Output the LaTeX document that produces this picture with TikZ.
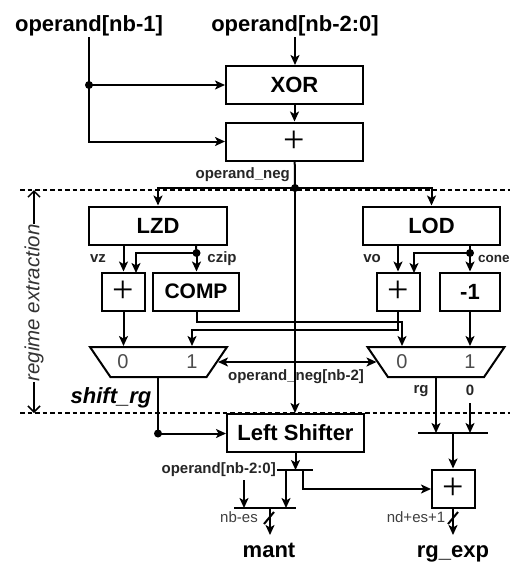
\documentclass[tikz,border=0pt]{standalone}
\usepackage{fontspec}
\setmainfont{Liberation Sans}
\newfontfamily\plusfont{Liberation Serif}
\usepackage{tikz}
\usetikzlibrary{arrows.meta}
\usetikzlibrary{calc}
\usetikzlibrary{shapes.geometric}
\newcommand{\fsize}[1]{\fontsize{#1}{#1}\selectfont}
\newcommand{\bnode}[4]{\node(#1)[block,minimum width=#3]at(#2){#4}}
\newcommand{\pnode}[3]{\node(#1)[block,minimum width=#3,font=\fsize{38}\plusfont]at(#2){+}}
\newcommand{\mnode}[2]{\node(#1)[mux]at(#2){}}

\begin{document}
\begin{tikzpicture}[
        x=1pt,y=-1pt,
        >={Stealth[length=10pt,width=9pt,inset=2.5pt]},
        wire/.style={line width=2pt,->},
        plain/.style={line width=2pt},
        block/.style={rectangle,draw=black,line width=2pt,minimum height=38pt,inner sep=0pt,font=\fsize{22}\bfseries},
        mux/.style={trapezium,draw=black,line width=2pt,shape border rotate=180,trapezium stretches=true,
                    minimum width=137pt,minimum height=30pt,trapezium angle=78,inner sep=2pt},
        big/.style={inner sep=0pt,font=\fsize{22}\bfseries},
        small/.style={inner sep=0pt,font=\fsize{15}\bfseries,text=black!85},
        thinlabel/.style={inner sep=0pt,font=\fsize{15},text=black!75},
        muxno/.style={inner sep=0pt,font=\fsize{20},text=black!70},
        bus/.style={line width=2pt},
        sep/.style={line width=2pt,dash pattern=on 4.5pt off 3pt},
        dot/.style={circle,fill=black,inner sep=0pt,minimum size=8pt},
        span/.style={line width=1.5pt,-{Straight Barb[length=6pt,width=12pt]}}
      ]
      \useasboundingbox (0,0) rectangle (510,562);
      \fill[white] (0,0) rectangle (510,562);

      % separators
      \coordinate (sepa) at (20,190);
      \coordinate (sepb) at (510,190);
      \coordinate (sepc) at (20,413);
      \coordinate (sepd) at (510,413);
      \draw[sep] (sepa) -- (sepb);
      \draw[sep] (sepc) -- (sepd);

      % blocks
      \bnode{xorb}{294.5,85}{137pt}{XOR};
      \pnode{addb}{294.5,141.5}{137pt};
      \bnode{lzd}{158,225.5}{138pt}{LZD};
      \bnode{lod}{431.5,225.5}{137pt}{LOD};
      \pnode{addl}{123.5,291.5}{43pt};
      \node(comp)[block,minimum width=86pt,font=\fsize{21}\bfseries] at (196,291.5) {COMP};
      \pnode{addr}{398,291.5}{43pt};
      \bnode{dec}{470,291.5}{60pt}{-1};
      \mnode{muxl}{158.5,362};
      \mnode{muxr}{436,362};
      \bnode{shifter}{295.5,433}{137pt}{Left Shifter};
      \pnode{adde}{453.5,488.5}{43pt};

      % labels
      \node(opa)[big,anchor=base] at (89,31) {operand[nb-1]};
      \node(opb)[big,anchor=base] at (295,31) {operand[nb-2:0]};
      \node(shift)[big,anchor=base,font=\fsize{22}\bfseries\itshape] at (111,403) {shift\_rg};
      \node(mant)[big,anchor=base] at (269,557) {mant};
      \node(rgexp)[big,anchor=base] at (453,557) {rg\_exp};
      \node(neg)[small,anchor=east] at (290,175) {operand\_neg};
      \node(vz)[small] at (98,259) {vz};
      \node(czip)[small] at (222,259) {czip};
      \node(vo)[small] at (372,259) {vo};
      \node(cone)[small,anchor=west,font=\fsize{13.5}\bfseries] at (478,259) {cone};
      \node(negb)[small] at (296,377) {operand\_neg[nb-2]};
      \node(rg)[small] at (421,391) {rg};
      \node(zero)[small] at (470,390) {0};
      \node(opc)[small,anchor=east] at (276,470) {operand[nb-2:0]};
      \node(nbes)[thinlabel] at (239,517) {nb-es};
      \node(ndes)[thinlabel] at (416,517) {nd+es+1};
      \node(la)[muxno] at (123,362) {0};
      \node(lb)[muxno] at (192,362) {1};
      \node(ra)[muxno] at (402,362) {0};
      \node(rb)[muxno] at (470,362) {1};
      \node(regime)[inner sep=0pt,rotate=90,font=\fsize{20.5}\itshape,text=black!80] at (34,303) {regime extraction};

      % top wires
      \coordinate (opatail) at (89,37);
      \coordinate (opbtail) at (295,37);
      \node(dota)[dot] at (89,85) {};
      \node(dotb)[dot] at (295,188) {};
      \draw[wire] (opbtail) -- (xorb.north -| opbtail);
      \draw[plain] (opatail) -- (dota.center);
      \draw[wire] (dota.center) -- (xorb.west |- dota);
      \draw[wire] (dota.center) |- (addb.west);
      \draw[wire] (xorb) -- (addb);
      \draw[plain] (addb) -- (dotb.center);
      \draw[wire] (dotb.center) -- (shifter.north -| dotb);
      \draw[wire] (dotb.center) -| (lzd.north);
      \draw[wire] (dotb.center) -| (lod.north);

      % regime extent
      \draw[span] (regime.east) -- (regime.east |- sepa);
      \draw[span] (regime.west) -- (regime.west |- sepc);

      % left branch
      \node(dotc)[dot] at (196.5,253) {};
      \draw[wire] (addl |- lzd.south) -- (addl.north);
      \draw[plain] (comp |- lzd.south) -- (dotc.center);
      \draw[wire] (dotc.center) -- (comp.north -| dotc);
      \coordinate (cinl) at (136,273);
      \draw[wire] (dotc.center) -| (cinl);
      \draw[wire] (addl) -- (addl |- muxl.north);

      % right branch
      \node(dotd)[dot] at (470,253) {};
      \draw[wire] (addr |- lod.south) -- (addr.north);
      \draw[plain] (dec |- lod.south) -- (dotd.center);
      \draw[wire] (dotd.center) -- (dec.north);
      \coordinate (cinr) at (414,273);
      \draw[wire] (dotd.center) -| (cinr);
      \draw[wire] (dec) -- (dec |- muxr.north);

      % crossing pair
      \coordinate (ua) at (196.5,322);
      \coordinate (ub) at (402,322);
      \coordinate (va) at (398,330);
      \coordinate (vb) at (192,330);
      \draw[wire] (comp.south -| ua) -- (ua) -- (ub) -- (ub |- muxr.north);
      \draw[wire] (addr.south) -- (va) -- (vb) -- (vb |- muxl.north);

      % select
      \draw[wire,<->] (muxl.east) -- (muxr.west);

      % outputs
      \node(dote)[dot] at (158,433.5) {};
      \coordinate (bara) at (418,433);
      \coordinate (barb) at (488,433);
      \coordinate (barc) at (277,470);
      \coordinate (bard) at (313,470);
      \coordinate (bare) at (234,508);
      \coordinate (barf) at (296,508);
      \draw[bus] (bara) -- (barb);
      \draw[bus] (barc) -- (bard);
      \draw[bus] (bare) -- (barf);
      \draw[plain] (muxl.south -| dote) -- (dote.center);
      \draw[wire] (dote.center) -- (shifter.west |- dote);
      \coordinate (rgin) at (436,433);
      \draw[wire] (muxr.south -| rgin) -- (rgin);
      \coordinate (zt) at (470,403);
      \coordinate (zb) at (470,433);
      \draw[wire] (zt) -- (zb);
      \coordinate (bm) at (453,433);
      \draw[wire] (bm) -- (adde.north -| bm);
      \coordinate (sb) at (295.5,470);
      \draw[wire] (shifter.south) -- (sb);

      \coordinate (ta) at (286,470);
      \coordinate (tb) at (286,508);
      \draw[wire] (ta) -- (tb);
      \coordinate (tc) at (244,480);
      \coordinate (td) at (244,508);
      \draw[wire] (tc) -- (td);
      \coordinate (te) at (303,470);
      \coordinate (tf) at (303,489);
      \draw[wire] (te) -- (tf) -- (adde.west |- tf);

      % final outputs with width marks
      \coordinate (ma) at (270,508);
      \coordinate (mb) at (270,535);
      \coordinate (ms) at (269,518);
      \coordinate (ra2) at (453,507);
      \coordinate (rb2) at (453,535);
      \coordinate (rs) at (453,518);
      \draw[wire] (ma) -- (mb);
      \draw[wire] (ra2) -- (rb2);
      \draw[plain] ($(ms)+(-5,6)$) -- ($(ms)+(5,-6)$);
      \draw[plain] ($(rs)+(-5,6)$) -- ($(rs)+(5,-6)$);
    \end{tikzpicture}
\end{document}
